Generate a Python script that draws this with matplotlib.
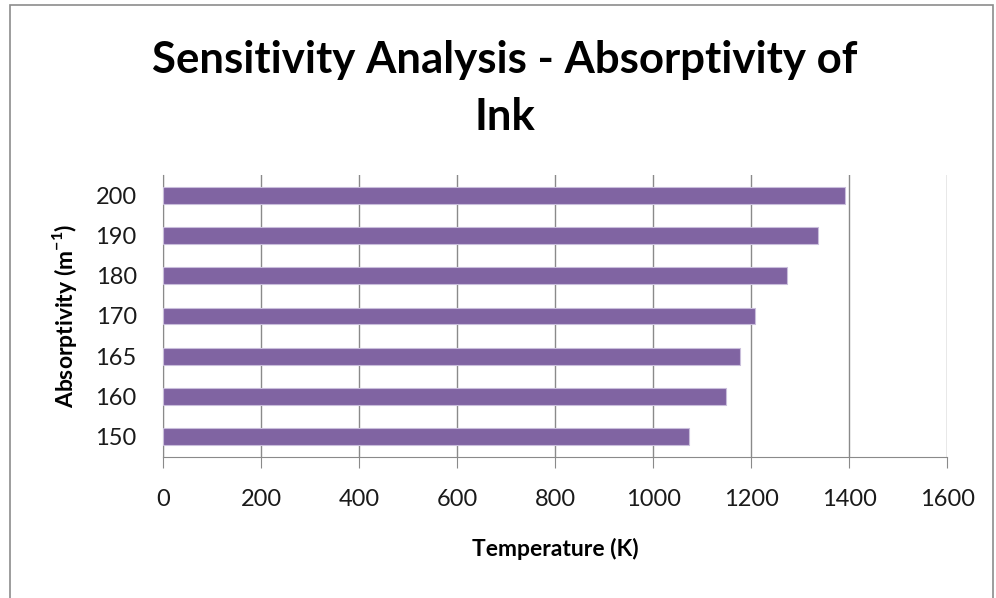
import matplotlib.pyplot as plt

absorptivity = ["150", "160", "165", "170", "180", "190", "200"]
temperature = [1073, 1149, 1178, 1208, 1274, 1337, 1392]
x_ticks = [0, 200, 400, 600, 800, 1000, 1200, 1400, 1600]

plt.rcParams['font.family'] = ['Lato', 'DejaVu Sans']

fig = plt.figure(figsize=(9.96, 5.98), dpi=100)
ax = fig.add_axes([0.1637, 0.2358, 0.951 - 0.1637, 0.7074 - 0.2358])

# outer chart border like the spreadsheet frame
fig.patches.append(plt.Rectangle((10 / 996, -0.05), 983 / 996, 1 - 5 / 598 + 0.05,
                                 transform=fig.transFigure, fill=False,
                                 edgecolor="#8c8c8c", linewidth=1.2))

ypos = range(len(absorptivity))
ax.barh(ypos, temperature, height=0.42, color="#8064A2", edgecolor="#c9bedb",
        linewidth=0.8, zorder=3)

ax.set_xlim(0, 1600)
ax.set_ylim(-0.5, len(absorptivity) - 0.5)
ax.set_xticks(x_ticks)
ax.set_yticks(list(ypos))
ax.set_yticklabels(absorptivity)
ax.grid(axis="x", color="#8a8a8a", linewidth=1.0, zorder=0)

for side in ["top", "right"]:
    ax.spines[side].set_visible(False)
ax.spines["left"].set_color("#8a8a8a")
ax.spines["bottom"].set_color("#8a8a8a")
ax.tick_params(axis="x", length=8, color="#8a8a8a", labelsize=17, pad=15,
               labelcolor="#1a1a1a")
ax.tick_params(axis="y", length=0, labelsize=17, pad=19, labelcolor="#1a1a1a")

ax.set_xlabel("Temperature (K)", fontsize=16.5, fontweight="bold", labelpad=20)
ax.set_ylabel(r"Absorptivity (m$^{\mathregular{-1}}$)", fontsize=16.5,
              fontweight="bold", labelpad=12)

fig.text(0.507, 0.9, "Sensitivity Analysis - Absorptivity of", ha="center", va="center",
         fontsize=31.5, fontweight="bold")
fig.text(0.507, 0.805, "Ink", ha="center", va="center", fontsize=31.5, fontweight="bold")

plt.savefig("out.png", dpi=100)
